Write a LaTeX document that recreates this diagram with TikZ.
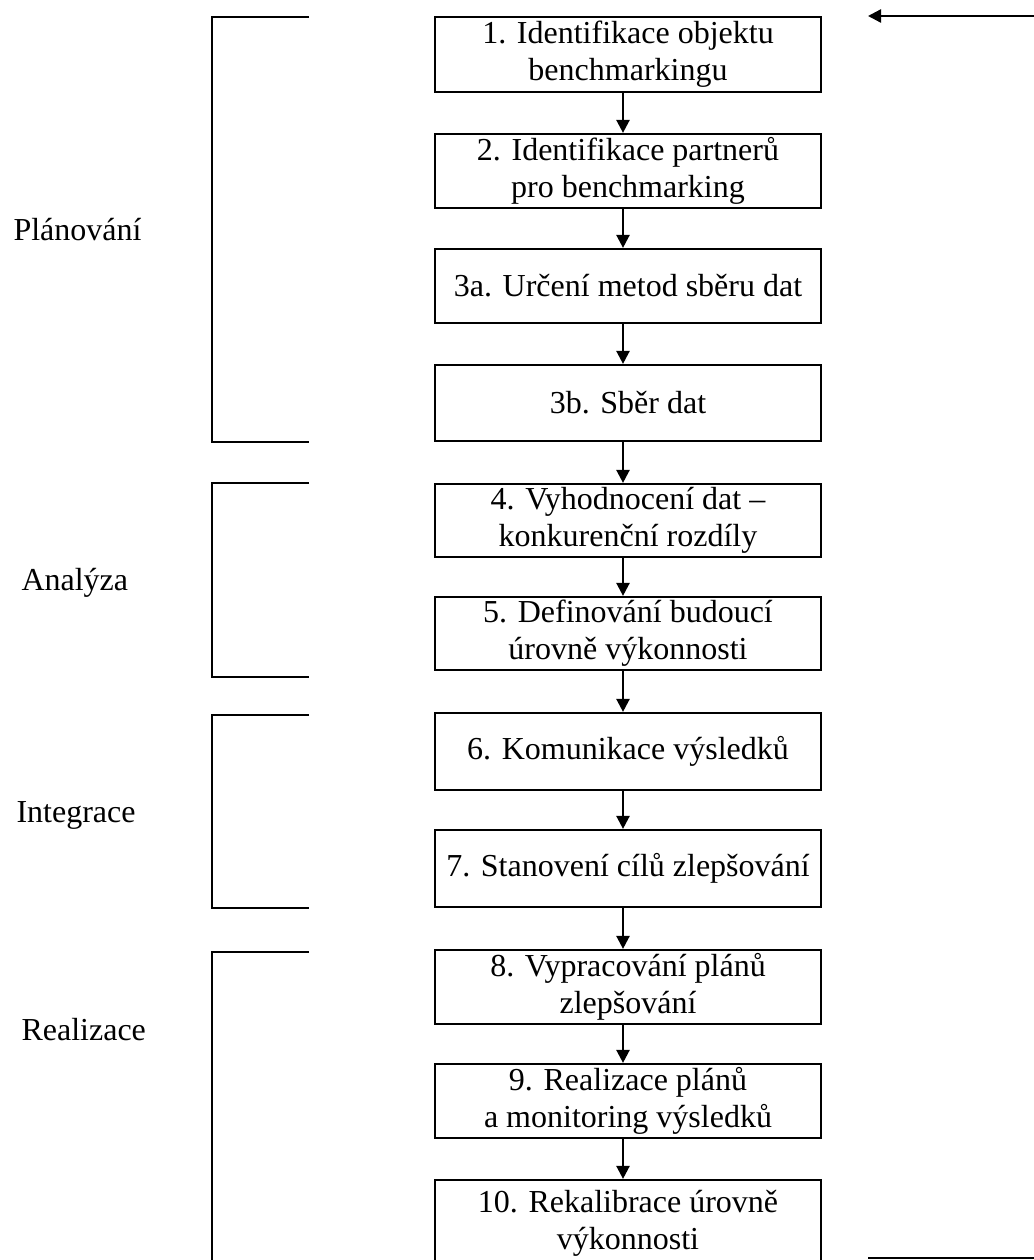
\documentclass[tikz,border=0pt]{standalone}
\usepackage{fontspec}
\setmainfont{Liberation Serif}
\usetikzlibrary{arrows.meta,positioning}
\tikzset{
  krok/.style={draw, line width=2.2pt, minimum width=386pt, align=center,
    inner sep=0pt, font=\fontsize{32}{37}\selectfont},
  sipka/.style={line width=2.4pt, -{Triangle[length=13pt,width=13pt]}},
  zavorka/.style={line width=2pt},
  faze/.style={anchor=west, font=\fontsize{32}{37}\selectfont},
}

\begin{document}
\begin{tikzpicture}[x=1pt, y=-1pt]
  \useasboundingbox (0,0) rectangle (1033,1260);

  % kroky benchmarkingu
  \node[krok, minimum height=75pt] (k1)  at (628,54.5)  {1. Identifikace objektu\\benchmarkingu};
  \node[krok, minimum height=74pt] (k2)  at (628,171)   {2. Identifikace partnerů\\pro benchmarking};
  \node[krok, minimum height=74pt] (k3a) at (628,286)   {3a. Určení metod sběru dat};
  \node[krok, minimum height=76pt] (k3b) at (628,403)   {3b. Sběr dat};
  \node[krok, minimum height=73pt] (k4)  at (628,520.5) {4. Vyhodnocení dat --\\konkurenční rozdíly};
  \node[krok, minimum height=73pt] (k5)  at (628,633.5) {5. Definování budoucí\\úrovně výkonnosti};
  \node[krok, minimum height=77pt] (k6)  at (628,751.5) {6. Komunikace výsledků};
  \node[krok, minimum height=77pt] (k7)  at (628,868.5) {7. Stanovení cílů zlepšování};
  \node[krok, minimum height=74pt] (k8)  at (628,987)   {8. Vypracování plánů\\zlepšování};
  \node[krok, minimum height=74pt] (k9)  at (628,1101)  {9. Realizace plánů\\a monitoring výsledků};
  \node[krok, minimum height=86pt] (k10) at (628,1223)  {10. Rekalibrace úrovně\\výkonnosti};

  % sipky mezi kroky
  \foreach \a/\b in {k1/k2, k2/k3a, k3a/k3b, k3b/k4, k4/k5, k5/k6, k6/k7, k7/k8, k8/k9, k9/k10}
    \draw[sipka] ([xshift=-5pt]\a.south) -- ([xshift=-5pt]\b.north);

  % zpetna vazba
  \coordinate (zpet1) at (1036,16);
  \coordinate (zpet2) at (868,16);
  \coordinate (konec1) at (868,1258);
  \coordinate (konec2) at (1036,1258);
  \draw[sipka] (zpet1) -- (zpet2);
  \draw[line width=2.4pt] (konec1) -- (konec2);

  % faze
  \draw[zavorka] (309,17) -| (212,442) -- (309,442);
  \draw[zavorka] (309,483) -| (212,677) -- (309,677);
  \draw[zavorka] (309,715) -| (212,908) -- (309,908);
  \draw[zavorka] (309,952) -| (212,1262);

  \node[faze] (plan) at (10,230)  {Plánování};
  \node[faze] (anal) at (18,583)  {Analýza};
  \node[faze] (inte) at (13,815)  {Integrace};
  \node[faze] (real) at (18,1030) {Realizace};
\end{tikzpicture}
\end{document}
